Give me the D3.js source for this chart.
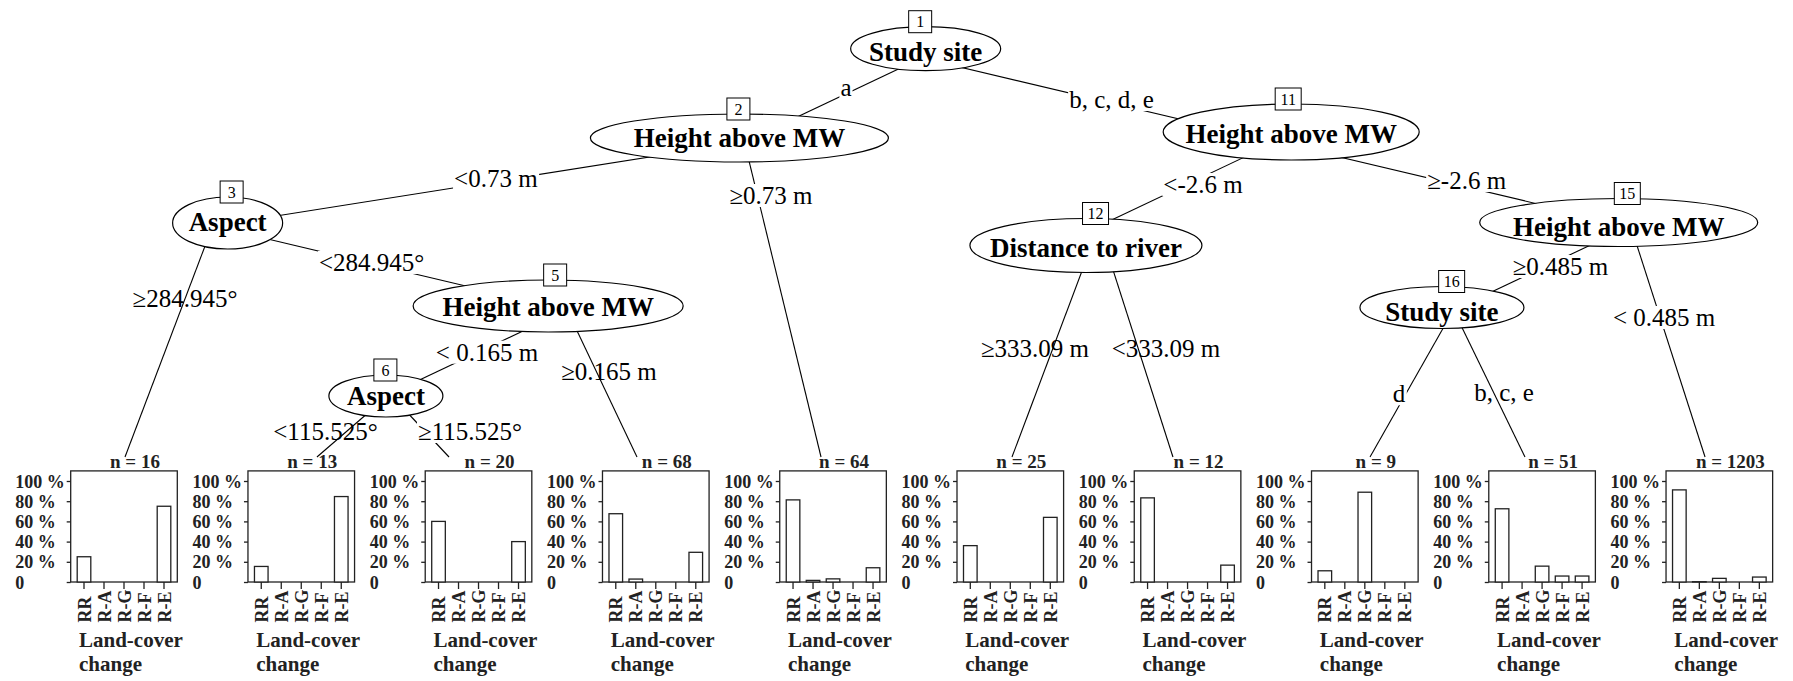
<!DOCTYPE html>
<html><head><meta charset="utf-8">
<script src="https://cdn.jsdelivr.net/npm/d3@7"></script>
<style>html,body{margin:0;padding:0;background:#fff;} svg{display:block;}</style>
</head><body>
<svg id="chart" width="1793" height="681"></svg>
<script>
// ---------------- data ----------------
const nodeIds   = [1,2,3,4,5,6,7,8,9,10,11,12,13,14,15,16,17,18,19];
const parentIds = [null,1,2,3,3,5,6,6,5,2,1,11,12,12,11,15,16,16,15];
const innerIds    = [1,2,3,5,6,11,12,15,16];
const innerLabels = ["Study site","Height above MW","Aspect","Height above MW","Aspect",
                     "Height above MW","Distance to river","Height above MW","Study site"];
const edgeChildIds = [2,11,3,10,4,5,6,9,7,8,12,15,13,14,16,19,17,18];
const edgeLabels   = ["a","b, c, d, e","<0.73 m","≥0.73 m","≥284.945°","<284.945°",
                      "< 0.165 m","≥0.165 m","<115.525°","≥115.525°","<-2.6 m","≥-2.6 m",
                      "≥333.09 m","<333.09 m","≥0.485 m","< 0.485 m","d","b, c, e"];
const terminalIds = [4,7,8,9,10,13,14,17,18,19];
const terminalN   = [16,13,20,68,64,25,12,9,51,1203];
const categories  = ["RR","R-A","R-G","R-F","R-E"];
// share (%) of each land-cover change class in each terminal node
const share4  = [25,0,0,0,75];
const share7  = [15.4,0,0,0,84.6];
const share8  = [60,0,0,0,40];
const share9  = [67.6,2.9,0,0,29.4];
const share10 = [81.3,1.6,3.1,0,14.1];
const share13 = [36,0,0,0,64];
const share14 = [83.3,0,0,0,16.7];
const share17 = [11.1,0,88.9,0,0];
const share18 = [72.5,0,15.7,5.9,5.9];
const share19 = [91.2,0.3,3.6,0,4.9];
const terminalShares = [share4,share7,share8,share9,share10,share13,share14,share17,share18,share19];
const yTickValues = [0,20,40,60,80,100];
const yTickLabels = ["0","20 %","40 %","60 %","80 %","100 %"];
const xAxisTitle  = ["Land-cover","change"];

// ---------------- layout tweaks (hand-arranged figure) ----------------
const nodeStyle = {
  1:{dx:4,dy:-9.3,rx:75,ry:22,bx:-5.5,ty:12},
  2:{dx:-5,dy:-4,rx:149,ry:24,bx:-1,ty:9},
  3:{dx:15,dy:-3,rx:55,ry:26,bx:4,ty:8},
  5:{dx:-19,dy:-4,rx:135,ry:26,bx:7,ty:10},
  6:{dx:-4,dy:2,rx:57,ry:21,bx:-0.5,ty:9},
  11:{dx:15,dy:-10,rx:128,ry:28,bx:-3,ty:11},
  12:{dx:-13,dy:19.5,rx:116,ry:27,bx:9.6,ty:11},
  15:{dx:-12,dy:-3.5,rx:139,ry:24,bx:8.6,ty:13},
  16:{dx:-11.5,dy:-2.5,rx:82,ry:21,bx:9.7,ty:13}
};
const termNudge = [1,15.7,-29.5,-18.8,-12,1.7,-14.6,5.2,-17.1,-14.3];
const edgePlace = {
  2:{t:0.369,dx:-10.3,mask:true}, 11:{t:0.512,dx:8.3,mask:true},
  3:{t:0.456,dx:-6.1,mask:true}, 10:{t:0.1746,dx:13.2,mask:true},
  4:{t:0.319,dx:0.3,mask:false}, 5:{t:0.452,dx:-1.2,mask:true},
  6:{t:0.52,dx:12,mask:true}, 9:{t:0.4286,dx:11.9,mask:false},
  7:{t:0.619,dx:-19.3,mask:false}, 8:{t:0.619,dx:43.5,mask:true},
  12:{t:0.524,dx:19.7,mask:true}, 15:{t:0.476,dx:21.7,mask:true},
  13:{t:0.5355,dx:-17.4,mask:false}, 14:{t:0.5355,dx:27.4,mask:false},
  16:{t:0.5,dx:18.4,mask:true}, 19:{t:0.4026,dx:3.4,mask:true},
  17:{t:0.58,dx:-6,mask:true}, 18:{t:0.571,dx:9.7,mask:false}
};

// ---------------- drawing ----------------
const serif = "'Liberation Serif','Times New Roman',Times,serif";
const ink = "#000", panelInk = "#222";
const svg = d3.select("#chart");
svg.append("rect").attr("width",1793).attr("height",681).attr("fill","#fff");

const slotX  = d3.scaleLinear().domain([0,9]).range([124,1719.34]);
const depthY = d3.scaleLinear().domain([0,4]).range([58,394]);
const termTopY = 457;

const root = d3.stratify()
  .id(d => String(d.id))
  .parentId(d => d.parent == null ? null : String(d.parent))
  (nodeIds.map((id,i) => ({id, parent: parentIds[i]})));
root.sort((a,b) => (+a.id) - (+b.id));
root.leaves().forEach((l,i) => l.slot = i);
root.eachAfter(n => { if (n.children) n.slot = n.children[1].leaves()[0].slot - 0.5; });

function anchor(n){
  if (n.children) return {x: slotX(n.slot), y: depthY(n.depth)};
  return {x: slotX(n.slot) + termNudge[n.slot], y: termTopY};
}

// edges
const gEdges = svg.append("g");
root.descendants().forEach(n => {
  if (!n.parent) return;
  const a = anchor(n.parent), b = anchor(n);
  gEdges.append("line").attr("x1",a.x).attr("y1",a.y).attr("x2",b.x).attr("y2",b.y)
    .attr("stroke",ink).attr("stroke-width",1.1);
});

// edge labels
const gLab = svg.append("g");
edgeChildIds.forEach((cid,i) => {
  const n = root.find(d => +d.id === cid);
  const a = anchor(n.parent), b = anchor(n), p = edgePlace[cid];
  const x = a.x + p.t*(b.x-a.x) + p.dx, y = a.y + p.t*(b.y-a.y) + 7;
  const g = gLab.append("g");
  const t = g.append("text").attr("x",x).attr("y",y).attr("text-anchor","middle")
    .attr("font-family",serif).attr("font-size",25).attr("fill",ink).text(edgeLabels[i]);
  if (p.mask) {
    const bb = t.node().getBBox();
    g.insert("rect","text").attr("x",bb.x-1).attr("y",bb.y+2).attr("width",bb.width+2)
      .attr("height",bb.height-4).attr("fill","#fff");
  }
});

// inner nodes
const gNodes = svg.append("g");
innerIds.forEach((id,i) => {
  const n = root.find(d => +d.id === id);
  const a = anchor(n), s = nodeStyle[id];
  const cx = a.x + s.dx, cy = a.y + s.dy;
  gNodes.append("ellipse").attr("cx",cx).attr("cy",cy).attr("rx",s.rx).attr("ry",s.ry)
    .attr("fill","#fff").attr("stroke",ink).attr("stroke-width",1.2);
  gNodes.append("text").attr("x",cx).attr("y",cy + s.ty).attr("text-anchor","middle")
    .attr("font-family",serif).attr("font-weight","bold").attr("font-size",27)
    .attr("fill",ink).text(innerLabels[i]);
  const bw = String(id).length > 1 ? 26 : 23, bh = 22;
  const bxc = cx + s.bx, byc = cy - s.ry - 5;
  gNodes.append("rect").attr("x",bxc-bw/2).attr("y",byc-bh/2).attr("width",bw).attr("height",bh)
    .attr("fill","#fff").attr("stroke",ink).attr("stroke-width",1);
  gNodes.append("text").attr("x",bxc).attr("y",byc+5.5).attr("text-anchor","middle")
    .attr("font-family",serif).attr("font-size",16).attr("fill",ink).text(id);
});

// terminal bar panels
const yS = d3.scaleLinear().domain([0,100]).range([582,481]);
terminalIds.forEach((id,i) => {
  const cx = slotX(i), fl = cx - 53.3, fr = cx + 53.3;
  const g = svg.append("g");
  const xb = d3.scaleBand().domain(categories).range([fl+3.3, fr-3.3])
    .paddingInner(0.32).paddingOuter(0.16);
  g.append("rect").attr("x",fl).attr("y",yS(110)).attr("width",fr-fl).attr("height",yS(0)-yS(110))
    .attr("fill","none").attr("stroke",panelInk).attr("stroke-width",1.3);
  g.selectAll(".bar").data(categories.map((c,k)=>({c, v: terminalShares[i][k]})).filter(d=>d.v>0))
    .join("rect").attr("class","bar")
    .attr("x",d=>xb(d.c)).attr("y",d=>yS(d.v)).attr("width",xb.bandwidth())
    .attr("height",d=>yS(0)-yS(d.v)).attr("fill","#fff").attr("stroke",panelInk).attr("stroke-width",1.3);

  const ga = g.append("g").attr("transform",`translate(${fl},0)`)
    .call(d3.axisLeft(yS).tickValues(yTickValues).tickSize(4).tickSizeOuter(0)
      .tickFormat((d,k)=>yTickLabels[k]));
  ga.select(".domain").remove();
  ga.attr("font-family",serif).attr("font-size",18).attr("font-weight","bold");
  ga.selectAll("line").attr("stroke",panelInk).attr("stroke-width",1.3);
  ga.selectAll("text").attr("x",-55.5).attr("y",6).attr("dy",null)
    .attr("text-anchor","start").attr("fill",panelInk);

  const gx = g.append("g").attr("transform",`translate(0,${yS(0)})`)
    .call(d3.axisBottom(xb).tickSize(7).tickSizeOuter(0));
  gx.select(".domain").remove();
  gx.attr("font-family",serif).attr("font-size",18).attr("font-weight","bold");
  gx.selectAll("line").attr("stroke",panelInk).attr("stroke-width",1.3);
  gx.selectAll("text").attr("x",0).attr("y",0).attr("dy",null)
    .attr("transform","translate(6.5,40.5) rotate(-90)")
    .attr("text-anchor","start").attr("fill",panelInk);

  g.append("text").attr("x",cx+11).attr("y",468).attr("text-anchor","middle")
    .attr("font-family",serif).attr("font-weight","bold").attr("font-size",19)
    .attr("fill",panelInk).text("n = " + terminalN[i]);
  xAxisTitle.forEach((t,k) => {
    g.append("text").attr("x",fl+8.3).attr("y",647 + k*23.5)
      .attr("font-family",serif).attr("font-weight","bold").attr("font-size",21)
      .attr("fill",panelInk).text(t);
  });
});
</script>
</body></html>
